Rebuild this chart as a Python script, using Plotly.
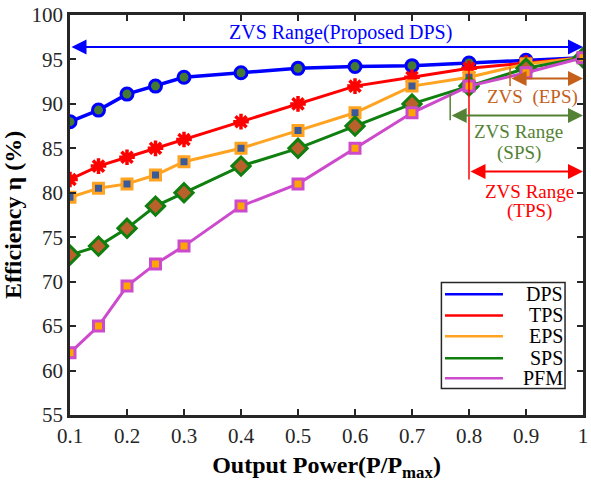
import plotly.graph_objects as go

# Normalised output power
load = [0.1, 0.15, 0.2, 0.25, 0.3, 0.4, 0.5, 0.6, 0.7, 0.8, 0.9, 1.0]

# Measured efficiency (%) for each modulation scheme
eff_dps = [88.0, 89.3, 91.1, 92.0, 93.0, 93.5, 94.0, 94.2, 94.3, 94.6, 94.9, 95.2]
eff_tps = [81.5, 83.0, 84.0, 85.0, 86.0, 88.0, 90.0, 92.0, 93.0, 94.0, 94.6, 95.2]
eff_eps = [79.5, 80.5, 81.0, 82.0, 83.5, 85.0, 87.0, 89.0, 92.0, 93.0, 94.5, 95.2]
eff_sps = [73.0, 74.0, 76.0, 78.5, 80.0, 83.0, 85.0, 87.5, 90.0, 92.0, 94.0, 95.2]
eff_pfm = [62.0, 65.0, 69.5, 72.0, 74.0, 78.5, 81.0, 85.0, 89.0, 92.0, 93.5, 95.2]

names = ["DPS", "TPS", "EPS", "SPS", "PFM"]
series = [eff_dps, eff_tps, eff_eps, eff_sps, eff_pfm]

x_ticks = [0.1, 0.2, 0.3, 0.4, 0.5, 0.6, 0.7, 0.8, 0.9, 1.0]
x_tick_text = ["0.1", "0.2", "0.3", "0.4", "0.5", "0.6", "0.7", "0.8", "0.9", "1"]
y_ticks = [55, 60, 65, 70, 75, 80, 85, 90, 95, 100]

# ZVS ranges (start of range in P/Pmax, all end at full load)
zvs_dps = [0.1, 1.0]
zvs_eps = [0.872, 1.0]
zvs_sps = [0.767, 1.0]
zvs_tps = [0.80, 1.0]

FONT = "Liberation Serif, Times New Roman, serif"

line_colors = ["#0000FF", "#FF0000", "#FFA320", "#0F7F0F", "#CC4ACB"]
line_widths = [3.5, 3, 3, 3, 3]
marker_styles = [
    dict(symbol="circle", size=12, color="#457A35", line=dict(color="#0000FF", width=3)),
    dict(symbol="asterisk-open", size=13, color="#FF0000", line=dict(color="#FF0000", width=3.5)),
    dict(symbol="square", size=10, color="#3A5A9A", line=dict(color="#FFA320", width=3)),
    dict(symbol="diamond", size=14, color="#B8612A", line=dict(color="#0F7F0F", width=3)),
    dict(symbol="square", size=10, color="#FFA500", line=dict(color="#CC4ACB", width=3)),
]

fig = go.Figure()
for name, y, lc, lw, mk in zip(names, series, line_colors, line_widths, marker_styles):
    fig.add_trace(go.Scatter(
        x=load, y=y, name=name, mode="lines+markers",
        line=dict(color=lc, width=lw), marker=mk, showlegend=False,
    ))

annotations = []
shapes = []


def range_arrow(x0, x1, y, color):
    annotations.append(dict(
        x=x1, y=y, ax=x0, ay=y, xref="x", yref="y", axref="x", ayref="y",
        text="", showarrow=True, arrowside="end+start", arrowhead=2,
        arrowsize=1.5, arrowwidth=2, arrowcolor=color, standoff=0, startstandoff=0,
    ))


def label(x, y, text, color, size=19):
    annotations.append(dict(
        x=x, y=y, xref="x", yref="y", text=text, showarrow=False,
        font=dict(family=FONT, size=size, color=color), xanchor="center", yanchor="middle",
        borderpad=0,
    ))


# DPS range across the whole load span
range_arrow(zvs_dps[0], zvs_dps[1], 96.4, "#0000FF")
label(0.574, 98.0, "ZVS Range(Proposed DPS)", "#0000FF", size=20)

# EPS range
c_eps = "#C5601A"
shapes.append(dict(type="line", xref="x", yref="y", x0=zvs_eps[0], x1=zvs_eps[0],
                   y0=92.0, y1=94.1, line=dict(color=c_eps, width=1.5)))
range_arrow(zvs_eps[0], zvs_eps[1], 92.85, c_eps)
label(0.911, 90.8, "ZVS&nbsp;&nbsp;(EPS)", c_eps)

# SPS range
c_sps = "#548235"
shapes.append(dict(type="line", xref="x", yref="y", x0=zvs_sps[0], x1=zvs_sps[0],
                   y0=88.15, y1=91.1, line=dict(color=c_sps, width=1.5)))
range_arrow(zvs_sps[0], zvs_sps[1], 88.7, c_sps)
label(0.887, 86.9, "ZVS Range", c_sps)
label(0.887, 84.5, "(SPS)", c_sps)

# TPS range
c_tps = "#FF0000"
shapes.append(dict(type="line", xref="x", yref="y", x0=zvs_tps[0], x1=zvs_tps[0],
                   y0=81.5, y1=94.4, line=dict(color=c_tps, width=1.5)))
range_arrow(zvs_tps[0], zvs_tps[1], 82.4, c_tps)
label(0.906, 80.2, "ZVS Range", c_tps)
label(0.906, 77.9, "(TPS)", c_tps)

# Legend box drawn in paper coordinates
shapes.append(dict(type="rect", xref="paper", yref="paper", x0=0.724, x1=0.965,
                   y0=0.066, y1=0.331, line=dict(color="#262626", width=1.5),
                   fillcolor="white", layer="above"))
legend_y = [0.302, 0.249, 0.197, 0.142, 0.092]
for name, lc, ly in zip(names, line_colors, legend_y):
    shapes.append(dict(type="line", xref="paper", yref="paper", x0=0.731, x1=0.844,
                       y0=ly, y1=ly, line=dict(color=lc, width=2.5), layer="above"))
    annotations.append(dict(
        x=0.962, y=ly, xref="paper", yref="paper", text=name, showarrow=False,
        xanchor="right", yanchor="middle", borderpad=0,
        font=dict(family=FONT, size=20, color="black"),
    ))

axis_common = dict(
    showline=True, linecolor="#262626", linewidth=2.5, mirror="ticks",
    ticks="inside", ticklen=6, tickwidth=2, tickcolor="#262626",
    showgrid=False, zeroline=False, ticklabeloverflow="allow",
    tickfont=dict(family=FONT, size=21, color="#262626"),
)

fig.update_layout(
    width=591, height=487,
    margin=dict(l=70, r=3, t=10, b=72),
    paper_bgcolor="white", plot_bgcolor="white",
    font=dict(family=FONT, color="black"),
    xaxis=dict(
        range=[0.1, 1.0], tickvals=x_ticks, ticktext=x_tick_text,
        title=dict(text="<b>Output Power(P/P<sub>max</sub>)</b>",
                   font=dict(family=FONT, size=24, color="black"), standoff=10),
        **axis_common,
    ),
    yaxis=dict(
        range=[55, 100], tickvals=y_ticks,
        title=dict(text="<b>Efficiency η (%)</b>",
                   font=dict(family=FONT, size=24, color="black"), standoff=6),
        **axis_common,
    ),
    annotations=annotations,
    shapes=shapes,
)

fig.write_html("out.html")
